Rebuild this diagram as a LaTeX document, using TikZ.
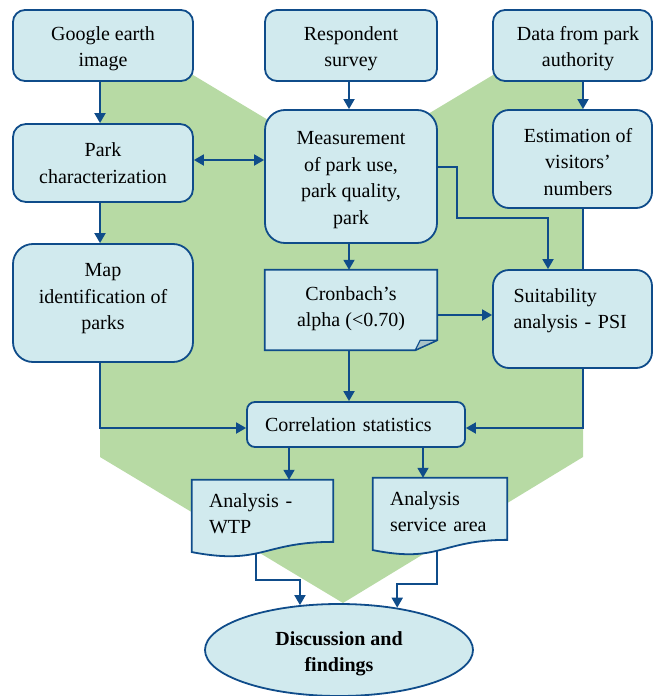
\documentclass[tikz,border=0pt]{standalone}
\usepackage{fontspec}
\setmainfont{Liberation Serif}
\usetikzlibrary{arrows.meta,calc,shapes.geometric}
\definecolor{grn}{RGB}{183,218,164}
\definecolor{boxfill}{RGB}{209,234,238}
\definecolor{edgeblue}{RGB}{15,76,138}
\definecolor{foldfill}{RGB}{168,194,200}
\pgfdeclarelayer{greenlayer}
\pgfdeclarelayer{edgelayer}
\pgfdeclarelayer{shapelayer}
\pgfsetlayers{greenlayer,edgelayer,shapelayer,main}
\newcommand\dropdp[1]{\rule[-#1]{0pt}{#1}}
\newcommand\topstrut[1]{\rule{0pt}{#1}}
\begin{document}
\begin{tikzpicture}[x=1pt,y=-1pt,
  txt/.style={font=\fontsize{20}{26.5}\selectfont, text=black},
  rbox/.style={txt, draw=edgeblue, fill=boxfill, line width=1.8pt, inner sep=0pt, align=center},
  plainbox/.style={txt, inner sep=0pt},
  shapefill/.style={draw=edgeblue, fill=boxfill, line width=1.8pt, line join=miter},
  conn/.style={draw=edgeblue, line width=1.8pt, -{Triangle[length=10pt,width=11pt]}},
  dconn/.style={draw=edgeblue, line width=1.8pt, {Triangle[length=10pt,width=11pt]}-{Triangle[length=10pt,width=11pt]}}]
\useasboundingbox (0,0) rectangle (653,696);

\begin{pgfonlayer}{greenlayer}
\fill[grn] (100,75) -- (193,75) -- (343,165) -- (493,75) -- (583,75) -- (583,457) -- (343,603) -- (100,457) -- cycle;
\end{pgfonlayer}

% boxes
\node[rbox, minimum width=180pt, minimum height=71pt, rounded corners=12pt] (google) at (103,45.5) {\topstrut{20pt}Google earth\\image};
\node[rbox, minimum width=172pt, minimum height=71pt, rounded corners=12pt] (resp) at (351,45.5) {\topstrut{20pt}Respondent\\survey};
\node[rbox, minimum width=159pt, minimum height=71pt, rounded corners=12pt] (data) at (572.5,45.5) {\hspace*{11pt}\topstrut{20pt}Data from park\\\hspace*{11pt}authority};
\node[rbox, minimum width=180pt, minimum height=78pt, rounded corners=13pt] (park) at (103,163) {Park\\characterization};
\node[rbox, minimum width=172pt, minimum height=133pt, rounded corners=20pt] (meas) at (351,176.5) {\topstrut{20pt}Measurement\\of park use,\\park quality,\\park};
\node[rbox, minimum width=159pt, minimum height=98pt, rounded corners=16pt] (est) at (572.5,159) {\hspace*{11pt}\topstrut{20pt}Estimation of\\\hspace*{11pt}visitors’\\\hspace*{11pt}numbers};
\node[rbox, minimum width=180pt, minimum height=118pt, rounded corners=20pt] (map) at (103,303) {Map\\identification of\\parks\dropdp{12.6pt}};
\node[plainbox, align=center, minimum width=172pt, minimum height=80pt] (cron) at (351,310) {Cronbach’s\\alpha (<0.70)\dropdp{7pt}};
\node[rbox, minimum width=159pt, minimum height=98pt, rounded corners=16pt, text width=118pt, align=left] (suit) at (572.5,319) {Suitability\\analysis - PSI\dropdp{21pt}};
\node[rbox, minimum width=218pt, minimum height=45pt, rounded corners=8pt, text width=182pt, align=left] (corr) at (356,424.5) {Correlation statistics};
\node[plainbox, align=left, minimum width=141pt, minimum height=77pt, text width=107pt] (wtp) at (262.5,518.5) {Analysis -\\WTP\dropdp{10pt}};
\node[plainbox, align=left, minimum width=134pt, minimum height=77pt, text width=100pt] (serv) at (440,516.5) {Analysis\\service area\dropdp{10pt}};
\node[ellipse, draw=edgeblue, fill=boxfill, line width=1.8pt, inner sep=0pt, minimum width=268pt, minimum height=92pt, align=center, font=\fontsize{20}{26.5}\selectfont\bfseries] (disc) at (339,650) {\topstrut{21.5pt}Discussion and\\findings};

% special shapes
\begin{pgfonlayer}{shapelayer}
\draw[shapefill] (cron.north west) -- (cron.north east) -- ($(cron.south east)+(0,-10)$) -- ($(cron.south east)+(-22,0)$) -- (cron.south west) -- cycle;
\draw[shapefill, fill=foldfill, line width=1.2pt, line join=round] ($(cron.south east)+(-22,0)$) -- ($(cron.south east)+(-17,-10)$) -- ($(cron.south east)+(0,-10)$) -- cycle;
\draw[shapefill] (wtp.north west) -- (wtp.north east) -- ($(wtp.north east)!0.802!(wtp.south east)$) .. controls ($(wtp.north)!0.802!(wtp.south)$) and ($(wtp.north)!1.108!(wtp.south)$) .. ($(wtp.north west)!0.934!(wtp.south west)$) -- cycle;
\draw[shapefill] (serv.north west) -- (serv.north east) -- ($(serv.north east)!0.802!(serv.south east)$) .. controls ($(serv.north)!0.802!(serv.south)$) and ($(serv.north)!1.108!(serv.south)$) .. ($(serv.north west)!0.934!(serv.south west)$) -- cycle;
\end{pgfonlayer}

% connectors
\begin{pgfonlayer}{edgelayer}
\draw[conn] ([xshift=-3pt]google.south) -- ([xshift=-3pt]park.north);
\draw[conn] ([xshift=-2pt]resp.south) -- ([xshift=-2pt]meas.north);
\draw[conn] ([xshift=10.5pt]data.south) -- ([xshift=10.5pt]est.north);
\draw[dconn] ([yshift=3pt]park.east) -- ([yshift=3pt]park.east -| meas.west);
\draw[conn] ([xshift=-3pt]park.south) -- ([xshift=-3pt]map.north);
\draw[conn] ([xshift=-2pt]meas.south) -- ([xshift=-2pt]cron.north);
\draw[conn] ([yshift=9.5pt]meas.east) -- ++(19,0) -- ++(0,51) -| ([xshift=-24.5pt]suit.north);
\draw[conn] ([xshift=10.5pt]est.south) |- ([yshift=-3.5pt]corr.east);
\draw[conn] ([yshift=-5pt]cron.east) -- ([yshift=-5pt]cron.east -| suit.west);
\draw[conn] ([xshift=-2pt]cron.south) -- ([xshift=-2pt]cron.south |- corr.north);
\draw[conn] ([xshift=-3pt]map.south) |- ([yshift=-3.5pt]corr.west);
\draw[conn] ([xshift=-67pt]corr.south) -- ([xshift=-67pt]corr.south |- wtp.north);
\draw[conn] ([xshift=67pt]corr.south) -- ([xshift=67pt]corr.south |- serv.north);
\draw[conn] ([xshift=-6.5pt]wtp.center) -- ([xshift=-6.5pt,yshift=-61.5pt]wtp.center) -| (disc.131.6);
\draw[conn] ([xshift=-3pt]serv.center) -- ([xshift=-3pt,yshift=-67.5pt]serv.center) -| (disc.36);
\end{pgfonlayer}
\end{tikzpicture}
\end{document}
